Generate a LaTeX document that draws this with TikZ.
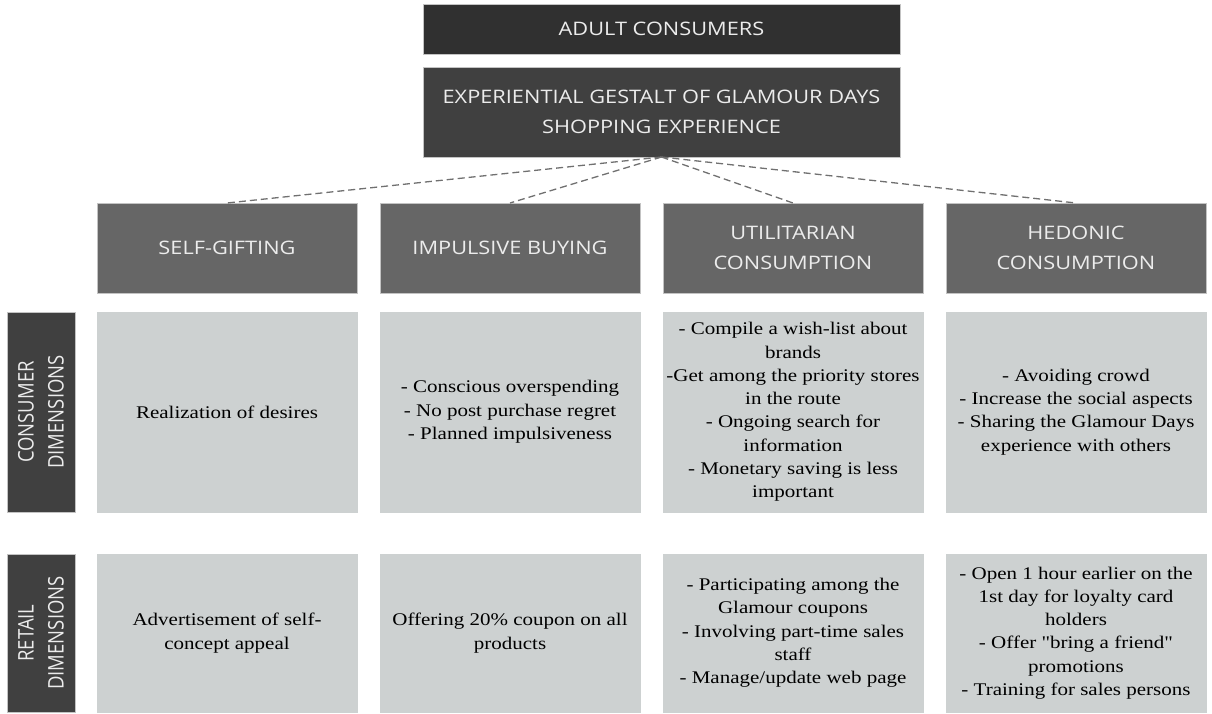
\documentclass[tikz,border=0pt]{standalone}
\usepackage{fontspec}
\newfontfamily\bodyfont{Liberation Serif}[FakeStretch=1.18]
\newfontfamily\headfont{Open Sans}[FakeStretch=1.17]
\newfontfamily\sidefont{Open Sans}[FakeStretch=0.86]
\usepackage{tikz}
\usetikzlibrary{positioning}
\definecolor{adultgray}{RGB}{48,48,48}
\definecolor{gestaltgray}{RGB}{64,64,64}
\definecolor{catgray}{RGB}{102,102,102}
\definecolor{dimgray}{RGB}{205,209,209}
\definecolor{edgegray}{RGB}{195,195,195}
\definecolor{linkgray}{RGB}{112,112,112}
\definecolor{headtext}{RGB}{236,236,236}
\tikzstyle{box} = [rectangle, outer sep=0pt, inner sep=2pt, draw=edgegray,
    line width=0.6pt, align=center]
\tikzstyle{topbox} = [box, fill=adultgray, text=headtext, minimum width=477pt,
    font=\headfont\fontsize{18.6pt}{29.5pt}\selectfont]
\tikzstyle{catbox} = [box, fill=catgray, text=headtext, minimum width=260pt,
    minimum height=90pt, font=\headfont\fontsize{18.6pt}{29.5pt}\selectfont]
\tikzstyle{dimbox} = [box, fill=dimgray, draw=dimgray, text=black, minimum width=260pt,
    font=\bodyfont\fontsize{17.8pt}{23.3pt}\selectfont]
\tikzstyle{sidebox} = [box, fill=gestaltgray, text=headtext, rotate=90,
    minimum height=68pt, font=\sidefont\fontsize{21.5pt}{30pt}\selectfont]
\tikzstyle{link} = [draw=linkgray, line width=1.3pt, dash pattern=on 7pt off 4pt]

\begin{document}
\begin{tikzpicture}[x=1pt, y=-1pt]
  \useasboundingbox (0,0) rectangle (1212,713);
  % Place nodes
  \node [topbox, minimum height=50pt] (adult) at (661.5,29) {ADULT CONSUMERS};
  \node [topbox, fill=gestaltgray, minimum height=90pt, below=13pt of adult] (gestalt)
  {EXPERIENTIAL GESTALT OF GLAMOUR DAYS\\SHOPPING EXPERIENCE};

  \node [catbox, anchor=north west] (gift) at (97,203) {SELF-GIFTING};
  \node [catbox, right=23pt of gift] (impulse) {IMPULSIVE BUYING};
  \node [catbox, right=23pt of impulse] (util) {UTILITARIAN\\CONSUMPTION};
  \node [catbox, right=23pt of util] (hedon) {HEDONIC\\CONSUMPTION};

  % consumer dimensions
  \node [dimbox, minimum height=200pt, below=19pt of gift] (giftcons)
  {Realization of desires};
  \node [dimbox, minimum height=200pt, below=19pt of impulse] (impulsecons)
  {- Conscious overspending\\- No post purchase regret\\ - Planned impulsiveness};
  \node [dimbox, minimum height=200pt, below=19pt of util] (utilcons)
  {- Compile a wish-list about\\brands\\-Get among the priority stores\\in the route\\
  - Ongoing search for\\information\\- Monetary saving is less\\important};
  \node [dimbox, minimum height=200pt, below=19pt of hedon] (hedoncons)
  {- Avoiding crowd\\- Increase the social aspects\\- Sharing the Glamour Days\\
  experience with others};

  % retail dimensions
  \node [dimbox, minimum height=158pt, below=42pt of giftcons] (giftret)
  {Advertisement of self-\\concept appeal};
  \node [dimbox, minimum height=158pt, below=42pt of impulsecons] (impulseret)
  {Offering 20\% coupon on all\\products};
  \node [dimbox, minimum height=158pt, below=42pt of utilcons] (utilret)
  {- Participating among the\\Glamour coupons\\- Involving part-time sales\\staff\\
  - Manage/update web page};
  \node [dimbox, minimum height=158pt, below=42pt of hedoncons] (hedonret)
  {- Open 1 hour earlier on the\\1st day for loyalty card\\holders\\
  - Offer "bring a friend"\\promotions\\- Training for sales persons};

  % row labels
  \node [sidebox, minimum width=200pt, left=22pt of giftcons, anchor=south] (consside)
  {CONSUMER\\DIMENSIONS};
  \node [sidebox, minimum width=158pt, left=22pt of giftret, anchor=south] (retside)
  {RETAIL\\DIMENSIONS};

  % Draw edges
  \draw [link] (gestalt.south) -- (gift.north);
  \draw [link] (gestalt.south) -- (impulse.north);
  \draw [link] (gestalt.south) -- (util.north);
  \draw [link] (gestalt.south) -- (hedon.north);
\end{tikzpicture}
\end{document}
